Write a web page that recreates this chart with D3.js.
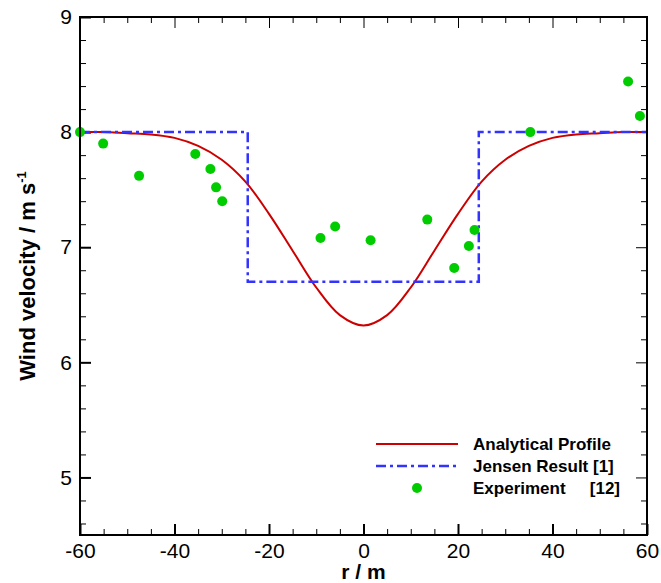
<!DOCTYPE html>
<html>
<head>
<meta charset="utf-8">
<script src="https://cdn.jsdelivr.net/npm/d3@7"></script>
<style>
  body { margin: 0; background: #fff; }
  svg { display: block; font-family: "Liberation Sans", Arial, sans-serif; }
  .tick text { font-size: 21px; fill: #000; }
</style>
</head>
<body>
<script>
// analytical profile
var profR = [-60, -55, -50, -45, -40, -35, -30, -25, -20, -15, -10, -5, 0, 5, 10, 15, 20, 25, 30, 35, 40, 45, 50, 55, 60];
var profU = [8.0, 8.0, 7.99, 7.98, 7.95, 7.88, 7.76, 7.57, 7.29, 6.97, 6.65, 6.41, 6.32, 6.41, 6.65, 6.97, 7.29, 7.57, 7.76, 7.88, 7.95, 7.98, 7.99, 8.0, 8.0];

// jensen top-hat
var jensenR = [-60, -24.5, -24.5, 24.4, 24.4, 60];
var jensenU = [8.0, 8.0, 6.7, 6.7, 8.0, 8.0];

// experiment points
var expR = [-60, -55.1, -47.5, -35.6, -32.4, -31.2, -29.9, -9.1, -6.0, 1.5, 13.5, 19.2, 22.3, 23.5, 35.3, 56.0, 58.5];
var expU = [8.0, 7.90, 7.62, 7.81, 7.68, 7.52, 7.40, 7.08, 7.18, 7.06, 7.24, 6.82, 7.01, 7.15, 8.0, 8.44, 8.14];

var legendLabels = ["Analytical Profile", "Jensen Result [1]", "Experiment"];

var W = 661, H = 583;
var margin = {top: 17, right: 14, bottom: 48, left: 80},
    width = W - margin.left - margin.right,
    height = H - margin.top - margin.bottom;

var red = "#cc0000", blue = "#3333ff", green = "#00cc00";

var svg = d3.select("body").append("svg")
    .attr("width", W).attr("height", H);
var g = svg.append("g")
    .attr("transform", "translate(" + margin.left + "," + margin.top + ")");

var x = d3.scaleLinear().domain([-60, 60]).range([0, width]);
var y = d3.scaleLinear().domain([4.5, 9]).range([height, 0]);

var xMajor = d3.range(-60, 61, 20),
    xMinor = d3.range(-60, 61, 5).filter(function(v){ return v % 20 != 0; }),
    yMajor = [5, 6, 7, 8, 9],
    yMinor = d3.range(46, 90, 2).map(function(v){ return v / 10; }).filter(function(v){ return Math.abs(v - Math.round(v)) > 0.01; });

var fmt = function(v){ return String(v); };  // plain hyphen minus

// minor ticks (all four sides)
function minor(ax, vals){ return ax.tickValues(vals).tickSize(-6).tickFormat(""); }
g.append("g").attr("transform", "translate(0," + height + ")").call(minor(d3.axisBottom(x), xMinor));
g.append("g").call(minor(d3.axisTop(x), xMinor));
g.append("g").call(minor(d3.axisLeft(y), yMinor));
g.append("g").attr("transform", "translate(" + width + ",0)").call(minor(d3.axisRight(y), yMinor));

// major ticks
g.append("g").attr("class", "xaxis").attr("transform", "translate(0," + height + ")")
  .call(d3.axisBottom(x).tickValues(xMajor).tickSize(-11).tickPadding(8).tickFormat(fmt));
g.append("g").call(d3.axisTop(x).tickValues(xMajor).tickSize(-11).tickFormat(""));
g.append("g").attr("class", "yaxis")
  .call(d3.axisLeft(y).tickValues(yMajor).tickSize(-11).tickPadding(8).tickFormat(fmt));
g.append("g").attr("transform", "translate(" + width + ",0)")
  .call(d3.axisRight(y).tickValues(yMajor).tickSize(-11).tickFormat(""));

g.selectAll(".domain").remove();
g.selectAll(".tick line").attr("stroke", "#000").attr("stroke-width", 1);
g.selectAll(".xaxis .tick line, .yaxis .tick line").attr("stroke-width", 2);
g.selectAll(".tick text").attr("font-size", 21).attr("font-family", null);

// curves
g.append("clipPath").attr("id", "clip").append("rect").attr("width", width).attr("height", height);
var plot = g.append("g").attr("clip-path", "url(#clip)");

var line = d3.line().x(function(d){ return x(d[0]); }).y(function(d){ return y(d[1]); });

plot.append("path")
  .datum(d3.zip(profR, profU))
  .attr("d", line.curve(d3.curveCatmullRom))
  .attr("fill", "none").attr("stroke", red).attr("stroke-width", 2);

plot.append("path")
  .datum(d3.zip(jensenR, jensenU))
  .attr("d", line.curve(d3.curveLinear))
  .attr("fill", "none").attr("stroke", blue).attr("stroke-width", 2.5)
  .attr("stroke-dasharray", "10,4,3,4");

g.append("g").selectAll("circle")
  .data(d3.zip(expR, expU))
  .enter().append("circle")
  .attr("cx", function(d){ return x(d[0]); })
  .attr("cy", function(d){ return y(d[1]); })
  .attr("r", 5).attr("fill", green);

// frame
g.append("rect").attr("width", width).attr("height", height)
  .attr("fill", "none").attr("stroke", "#000").attr("stroke-width", 2);

// axis titles
svg.append("text")
  .attr("x", margin.left + width / 2).attr("y", 579)
  .attr("text-anchor", "middle").attr("font-weight", "bold").attr("font-size", 21)
  .text("r / m");

var yt = svg.append("text")
  .attr("transform", "translate(35," + (margin.top + height / 2) + ") rotate(-90)")
  .attr("text-anchor", "middle").attr("font-weight", "bold").attr("font-size", 22);
yt.append("tspan").text("Wind velocity / m s");
yt.append("tspan").attr("font-size", 13).attr("dy", -9).text("-1");

// legend
var leg = svg.append("g");
var rowsY = [444, 466, 488];
leg.append("line").attr("x1", 376).attr("x2", 458).attr("y1", rowsY[0]).attr("y2", rowsY[0])
  .attr("stroke", red).attr("stroke-width", 2);
leg.append("line").attr("x1", 376).attr("x2", 458).attr("y1", rowsY[1]).attr("y2", rowsY[1])
  .attr("stroke", blue).attr("stroke-width", 2.5).attr("stroke-dasharray", "10,4,3,4");
leg.append("circle").attr("cx", 417).attr("cy", rowsY[2]).attr("r", 5).attr("fill", green);
leg.selectAll("text.lab").data(legendLabels).enter().append("text")
  .attr("class", "lab")
  .attr("x", 473).attr("y", function(d, i){ return rowsY[i] + 6; })
  .attr("font-weight", "bold").attr("font-size", 17)
  .text(function(d){ return d; });
leg.append("text").attr("x", 620).attr("y", rowsY[2] + 6)
  .attr("text-anchor", "end").attr("font-weight", "bold").attr("font-size", 17)
  .text("[12]");
</script>
</body>
</html>
